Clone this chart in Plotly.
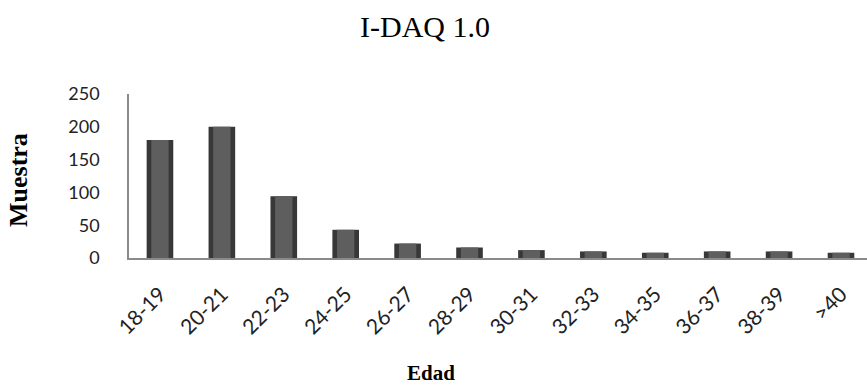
import plotly.graph_objects as go

# Age groups and number of respondents per group
edades = ["18-19", "20-21", "22-23", "24-25", "26-27", "28-29",
          "30-31", "32-33", "34-35", "36-37", "38-39", ">40"]
muestra = [180, 200, 94, 43, 22, 16, 12, 10, 8, 10, 10, 8]

y_ticks = [0, 50, 100, 150, 200, 250]

# Plot area in pixels (left, right, top, bottom)
W, H = 867, 386
L, R, T, B = 129, 867, 94, 258


def px_to_paper(x, y):
    return (x - L) / (R - L), (B - y) / (B - T)


fig = go.Figure()

# Outer (dark edge) bar
fig.add_trace(go.Bar(
    x=edades, y=muestra, width=0.43,
    marker=dict(color="#383838", line=dict(width=0)),
    hoverinfo="skip", showlegend=False,
))
# Inner lighter face for a shaded, cylinder-like look
fig.add_trace(go.Bar(
    x=edades, y=muestra, width=0.28,
    marker=dict(color="#5e5e5e", line=dict(width=0)),
    showlegend=False,
))

ex, ey = px_to_paper(431, 373)
mx, my = px_to_paper(18, 180)

fig.update_layout(
    width=W, height=H,
    margin=dict(l=L, r=W - R, t=T, b=H - B),
    paper_bgcolor="white", plot_bgcolor="white",
    barmode="overlay",
    title=dict(text="I-DAQ 1.0", x=425 / W, xref="container", xanchor="center",
               y=1 - 26 / H, yref="container", yanchor="middle",
               font=dict(family="Liberation Serif", size=30, color="black")),
    font=dict(family="Lato", size=17, color="#222"),
    annotations=[
        dict(text="<b>Edad</b>", x=ex, y=ey, xref="paper", yref="paper",
             xanchor="center", yanchor="middle", showarrow=False,
             font=dict(family="Liberation Serif", size=21, color="black")),
        dict(text="<b>Muestra</b>", x=mx, y=my, xref="paper", yref="paper",
             xanchor="center", yanchor="middle", showarrow=False, textangle=-90,
             font=dict(family="Liberation Serif", size=26, color="black")),
    ],
)

fig.update_xaxes(
    type="category", range=[-0.5, 11.42],
    showline=True, linecolor="#8a8a8a", linewidth=1.5,
    showgrid=False, ticks="", tickangle=-45, ticklabelstandoff=14,
    tickfont=dict(family="Lato", size=21, color="#222"),
)
fig.update_yaxes(
    range=[0, 250], tickvals=y_ticks,
    showline=True, linecolor="#8a8a8a", linewidth=1.5,
    showgrid=False, zeroline=False, ticks="", ticklabelstandoff=24,
    tickfont=dict(family="Lato", size=18, color="#222"),
)

fig.write_html("out.html")
